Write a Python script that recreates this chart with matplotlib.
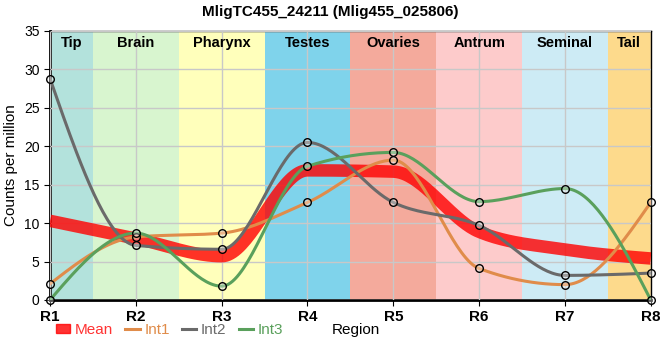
import matplotlib
matplotlib.use("Agg")
import matplotlib.pyplot as plt
import numpy as np
from matplotlib.lines import Line2D
from matplotlib.patches import Patch

plt.rcParams['font.family'] = ['Liberation Sans', 'DejaVu Sans']

regions = ['R1', 'R2', 'R3', 'R4', 'R5', 'R6', 'R7', 'R8']
tissues = ['Tip', 'Brain', 'Pharynx', 'Testes', 'Ovaries', 'Antrum', 'Seminal', 'Tail']
tissue_colors = ['#b3e2dc', '#d8f5cf', '#ffffbb', '#7fd3eb', '#f4aa9c', '#fdcbcb', '#cdebf5', '#fdda8c']

int1 = [2.1, 8.2, 8.7, 12.7, 18.2, 4.1, 2.0, 12.7]
int2 = [28.8, 7.1, 6.6, 20.5, 12.7, 9.7, 3.2, 3.5]
int3 = [0.0, 8.7, 1.8, 17.4, 19.2, 12.8, 14.5, 0.0]
mean = list(np.mean([int1, int2, int3], axis=0))


def monotone(y, n=40):
    # same curve as d3.curveMonotoneX, unit spacing
    y = np.asarray(y, float)
    s = np.diff(y)
    t = np.zeros(len(y))
    for i in range(1, len(y) - 1):
        s0, s1 = s[i - 1], s[i]
        p = (s0 + s1) / 2
        t[i] = (np.sign(s0) + np.sign(s1)) * min(abs(s0), abs(s1), 0.5 * abs(p))
    t[0] = (3 * s[0] - t[1]) / 2
    t[-1] = (3 * s[-1] - t[-2]) / 2
    xs, ys = [], []
    for i in range(len(y) - 1):
        u = np.linspace(0, 1, n)
        h00 = 2 * u**3 - 3 * u**2 + 1
        h10 = u**3 - 2 * u**2 + u
        h01 = -2 * u**3 + 3 * u**2
        h11 = u**3 - u**2
        xs.append(i + u)
        ys.append(h00 * y[i] + h10 * t[i] + h01 * y[i + 1] + h11 * t[i + 1])
    return np.concatenate(xs), np.concatenate(ys)


fig = plt.figure(figsize=(6.6, 3.6), dpi=100)
ax = fig.add_axes([0.0758, 0.1667, 0.9102, 0.7472])
x = np.arange(len(regions))

for i, (name, col) in enumerate(zip(tissues, tissue_colors)):
    ax.axvspan(max(i - 0.5, 0), min(i + 0.5, len(regions) - 1), color=col, lw=0, zorder=0)
    ax.text(i if 0 < i < 7 else (0.25 if i == 0 else 6.75), 34.3, name, ha='center', va='top',
            fontsize=10.5, fontweight='bold', zorder=5)

ax.grid(True, color='#c8c8c8', lw=1, zorder=1)
ax.set_axisbelow(False)
for gl in ax.get_xgridlines() + ax.get_ygridlines():
    gl.set_zorder(1)

series = [(int1, '#e08c4a', 'Int1'), (int2, '#6a6a6a', 'Int2'), (int3, '#5aa05c', 'Int3')]
mx, my = monotone(mean)
ax.plot(mx, my, color='#ff0000', lw=9, alpha=0.8, solid_capstyle='butt', zorder=3)
for vals, col, lab in series:
    sx, sy = monotone(vals)
    ax.plot(sx, sy, color=col, lw=2.2, zorder=4)
for vals, col, lab in series:
    ax.scatter(x, vals, s=30, facecolor=(1, 1, 1, 0.35), edgecolor='black', lw=1, zorder=6, clip_on=False)

ax.set_xlim(0, 7)
ax.set_ylim(0, 35)
ax.set_xticks(x)
ax.set_xticklabels(regions, fontsize=11, fontweight='bold')
ax.set_yticks(range(0, 36, 5))
ax.tick_params(axis='y', labelsize=10, length=4)
ax.tick_params(axis='x', length=4)
ax.set_ylabel('Counts per million', fontsize=11)
for side in ['left', 'bottom']:
    ax.spines[side].set_linewidth(2)
for side in ['top', 'right']:
    ax.spines[side].set_linewidth(1)

fig.suptitle('MligTC455_24211 (Mlig455_025806)', fontsize=11, fontweight='bold', y=0.985)

handles = [Patch(color='#ff0000', alpha=0.8)] + [Line2D([], [], color=c, lw=2.2) for _, c, _ in series]
labels = ['Mean'] + [lab for _, _, lab in series]
leg = fig.legend(handles, labels, loc='center left', bbox_to_anchor=(0.068, 0.083), ncol=4,
                 frameon=False, fontsize=11, handlelength=0.95, handleheight=0.55, handletextpad=0.3,
                 columnspacing=0.8, borderpad=0.2,
                 labelcolor=['#ff3333', '#e08c4a', '#6a6a6a', '#5aa05c'])
fig.text(0.503, 0.083, 'Region', fontsize=11, va='center', ha='left')

fig.savefig('out.png', dpi=100)
